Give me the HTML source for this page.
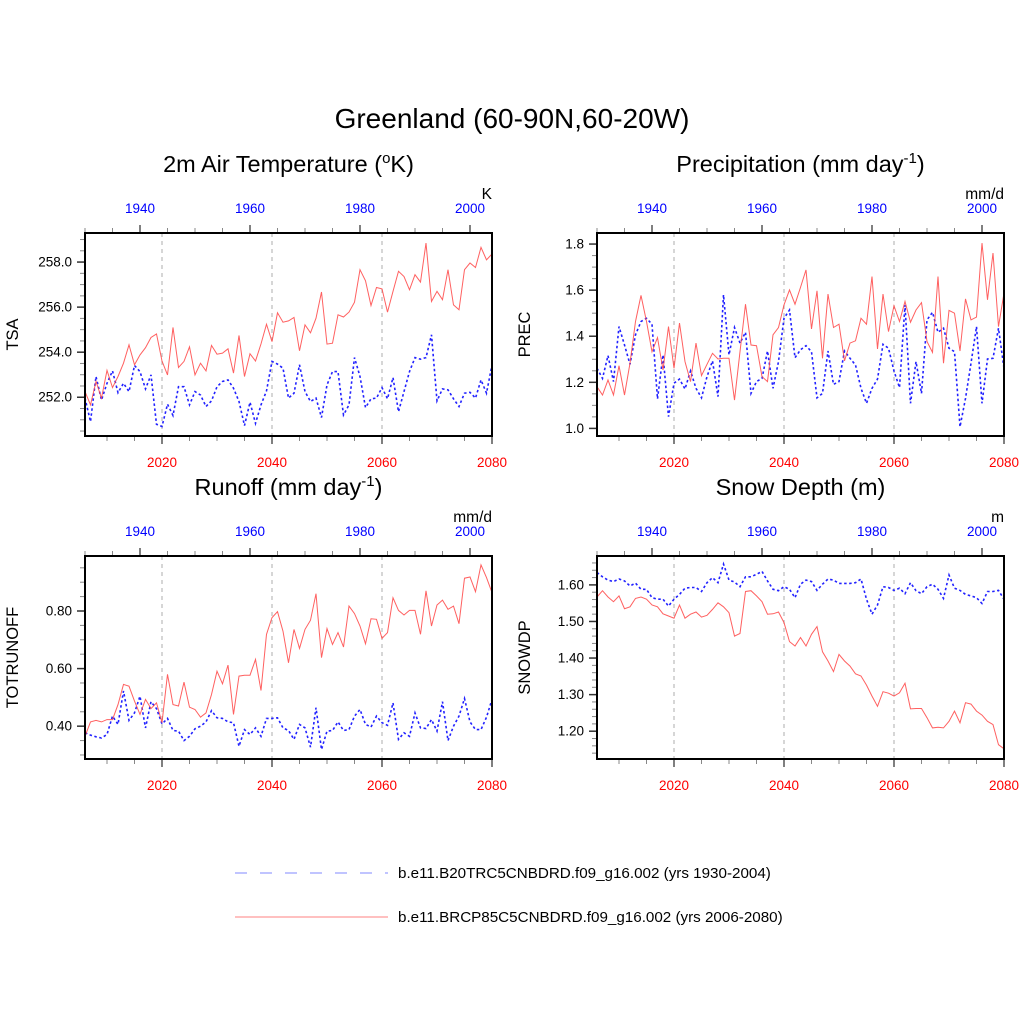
<!DOCTYPE html>
<html><head><meta charset="utf-8"><style>
html,body{margin:0;padding:0;background:#fff}
svg{display:block;font-family:"Liberation Sans",Arial,sans-serif}
</style></head><body>
<svg id="chart" width="1024" height="1024" viewBox="0 0 1024 1024" xmlns="http://www.w3.org/2000/svg">
<text x="512" y="128" font-size="28" text-anchor="middle">Greenland (60-90N,60-20W)</text>
<g>
<line x1="235" y1="873" x2="388" y2="873" stroke="#9aa0ff" stroke-width="1.2" stroke-dasharray="12,13"/>
<text x="398" y="878" font-size="15.2">b.e11.B20TRC5CNBDRD.f09_g16.002 (yrs 1930-2004)</text>
<line x1="235" y1="917" x2="388" y2="917" stroke="#ff9a9a" stroke-width="1.2"/>
<text x="398" y="922" font-size="15.2">b.e11.BRCP85C5CNBDRD.f09_g16.002 (yrs 2006-2080)</text>
</g>
</svg>
<script>
const tsaRcp=[252.25,251.66,252.7,251.96,253.19,252.43,252.92,253.51,254.33,253.44,253.88,254.2,254.65,254.81,253.61,252.99,255.1,253.32,253.59,254.24,252.99,253.51,253.17,254.3,253.91,253.96,254.15,253.07,254.74,252.92,253.93,253.61,254.37,255.24,254.47,255.75,255.33,255.39,255.54,254.06,255.21,254.86,255.51,256.67,254.36,254.4,255.66,255.56,255.78,256.22,257.66,257.17,256.07,256.87,256.81,255.78,256.7,257.59,257.36,256.77,257.44,257.11,258.84,256.25,256.7,256.33,257.66,256.1,255.88,257.66,257.96,257.76,258.65,258.1,258.36];
const tsaHist=[251.96,250.92,252.92,251.88,252.62,253.17,252.2,252.62,252.25,253.41,253.14,252.37,252.99,250.8,250.7,251.69,251.19,252.47,252.47,251.66,252.25,252.1,251.59,251.84,252.47,252.7,252.77,252.4,251.81,250.74,251.78,250.84,251.66,252.28,253.59,253.47,253.29,251.96,252.18,253.44,252.25,251.81,251.96,251.1,252.55,253.14,253.14,251.21,251.66,253.76,252.92,251.54,251.93,251.96,252.43,251.93,252.87,251.36,252.25,253.14,253.76,253.69,253.76,254.77,251.84,252.37,252.33,251.93,251.59,252.18,252.22,251.96,252.77,252.18,253.44];
const precRcp=[1.181,1.145,1.21,1.145,1.272,1.145,1.283,1.464,1.577,1.464,1.333,1.394,1.254,1.442,1.261,1.457,1.29,1.203,1.37,1.229,1.278,1.326,1.301,1.304,1.304,1.123,1.333,1.539,1.362,1.359,1.225,1.203,1.406,1.438,1.536,1.601,1.539,1.612,1.688,1.432,1.597,1.304,1.583,1.438,1.452,1.293,1.37,1.38,1.478,1.452,1.659,1.345,1.583,1.42,1.532,1.464,1.551,1.461,1.514,1.546,1.377,1.33,1.659,1.283,1.512,1.5,1.336,1.562,1.471,1.483,1.804,1.558,1.761,1.442,1.587];
const precHist=[1.261,1.217,1.316,1.203,1.442,1.362,1.278,1.406,1.464,1.478,1.452,1.128,1.319,1.051,1.196,1.214,1.171,1.249,1.174,1.133,1.225,1.293,1.138,1.58,1.319,1.438,1.37,1.417,1.152,1.203,1.217,1.336,1.174,1.29,1.478,1.514,1.307,1.341,1.359,1.333,1.133,1.152,1.336,1.191,1.203,1.336,1.304,1.275,1.174,1.109,1.174,1.214,1.365,1.348,1.249,1.177,1.536,1.109,1.29,1.152,1.471,1.504,1.417,1.435,1.348,1.333,1.007,1.13,1.283,1.442,1.109,1.301,1.304,1.435,1.261];
const roRcp=[0.365,0.415,0.42,0.415,0.423,0.423,0.475,0.545,0.539,0.487,0.441,0.493,0.461,0.481,0.412,0.58,0.475,0.47,0.553,0.466,0.458,0.431,0.446,0.51,0.591,0.547,0.612,0.441,0.574,0.577,0.577,0.632,0.524,0.719,0.777,0.798,0.73,0.62,0.736,0.67,0.736,0.768,0.86,0.638,0.739,0.684,0.725,0.675,0.817,0.791,0.748,0.686,0.773,0.771,0.705,0.725,0.846,0.802,0.786,0.802,0.802,0.719,0.87,0.748,0.821,0.838,0.806,0.817,0.756,0.914,0.918,0.867,0.96,0.916,0.864];
const roHist=[0.377,0.369,0.363,0.359,0.371,0.435,0.406,0.522,0.42,0.446,0.504,0.394,0.485,0.461,0.408,0.427,0.385,0.383,0.35,0.365,0.391,0.4,0.415,0.454,0.429,0.427,0.415,0.412,0.33,0.388,0.371,0.394,0.365,0.427,0.427,0.429,0.394,0.385,0.354,0.406,0.394,0.327,0.464,0.319,0.383,0.385,0.415,0.385,0.388,0.435,0.458,0.406,0.397,0.435,0.412,0.403,0.481,0.354,0.377,0.365,0.446,0.394,0.392,0.423,0.383,0.485,0.35,0.4,0.435,0.496,0.415,0.388,0.388,0.431,0.493];
const snRcp=[1.567,1.584,1.567,1.554,1.57,1.535,1.54,1.563,1.567,1.561,1.545,1.54,1.521,1.515,1.509,1.545,1.509,1.52,1.526,1.512,1.517,1.533,1.551,1.54,1.524,1.46,1.467,1.582,1.584,1.57,1.554,1.52,1.521,1.526,1.497,1.445,1.433,1.456,1.433,1.465,1.486,1.417,1.392,1.363,1.41,1.392,1.378,1.357,1.351,1.326,1.296,1.268,1.308,1.304,1.296,1.305,1.331,1.261,1.262,1.262,1.237,1.209,1.211,1.209,1.227,1.255,1.223,1.278,1.274,1.255,1.244,1.227,1.218,1.163,1.152];
const snHist=[1.634,1.622,1.613,1.609,1.616,1.611,1.597,1.605,1.588,1.588,1.565,1.561,1.561,1.542,1.561,1.574,1.591,1.593,1.593,1.582,1.606,1.62,1.606,1.657,1.613,1.608,1.595,1.622,1.622,1.629,1.637,1.611,1.588,1.584,1.595,1.588,1.565,1.602,1.613,1.609,1.585,1.602,1.616,1.613,1.604,1.604,1.604,1.606,1.616,1.561,1.52,1.545,1.595,1.593,1.585,1.591,1.576,1.606,1.584,1.576,1.595,1.602,1.588,1.563,1.627,1.591,1.585,1.574,1.57,1.565,1.549,1.582,1.582,1.585,1.561];
const bottomTicks=[2020,2040,2060,2080];
const topTicks=[1940,1960,1980,2000];
const tsaTicks=[252,254,256,258];
const precTicks=[1.0,1.2,1.4,1.6,1.8];
const roTicks=[0.4,0.6,0.8];
const snTicks=[1.2,1.3,1.4,1.5,1.6];

const NS='http://www.w3.org/2000/svg';
const svg=document.getElementById('chart');
function mk(tag,attrs,parent){const e=document.createElementNS(NS,tag);for(const k in attrs)e.setAttribute(k,attrs[k]);(parent||svg).appendChild(e);return e;}

const panels=[
 {key:'tsa',x0:85,x1:492,y0:233,y1:436,ymin:250.28,ymax:259.29,ticks:tsaTicks,minor:0.5,dec:1,label:'TSA',units:'K',title:'2m Air Temperature (',sup:'o',title2:'K)',rcp:tsaRcp,hist:tsaHist},
 {key:'prec',x0:597,x1:1004,y0:233,y1:436,ymin:0.967,ymax:1.848,ticks:precTicks,minor:0.05,dec:1,label:'PREC',units:'mm/d',title:'Precipitation (mm day',sup:'-1',title2:')',rcp:precRcp,hist:precHist},
 {key:'runoff',x0:85,x1:492,y0:556,y1:759,ymin:0.286,ymax:0.991,ticks:roTicks,minor:0.05,dec:2,label:'TOTRUNOFF',units:'mm/d',title:'Runoff (mm day',sup:'-1',title2:')',rcp:roRcp,hist:roHist},
 {key:'snow',x0:597,x1:1004,y0:556,y1:759,ymin:1.124,ymax:1.679,ticks:snTicks,minor:0.02,dec:2,label:'SNOWDP',units:'m',title:'Snow Depth (m)',sup:'',title2:'',rcp:snRcp,hist:snHist}
];

panels.forEach(p=>{
 const g=mk('g',{});
 
 
 const xb=yr=>p.x0+(yr-2006)/74*(p.x1-p.x0);
 const xt=yr=>p.x0+(yr-1930)/74*(p.x1-p.x0);
 const y=v=>p.y1-(v-p.ymin)/(p.ymax-p.ymin)*(p.y1-p.y0);
 const cx=(p.x0+p.x1)/2;
 const t=mk('text',{x:cx,y:p.y0-61,'font-size':23.5,'text-anchor':'middle'},g);
 
 
 t.appendChild(document.createTextNode(p.title));
 if(p.sup){const s=mk('tspan',{'font-size':15,dy:-9},t);s.textContent=p.sup;const s2=mk('tspan',{dy:9},t);s2.textContent=p.title2;}
 const u=mk('text',{x:p.x1,y:p.y0-34,'font-size':15.5,'text-anchor':'end'},g);
 
 
 u.textContent=p.units;
 const yl=mk('text',{x:0,y:0,'font-size':16.5,'text-anchor':'middle',transform:`translate(${p.x0-67},${(p.y0+p.y1)/2}) rotate(-90)`},g);
 
 
 yl.textContent=p.label;
 [2020,2040,2060].forEach(yr=>{
  const l=mk('line',{x1:xb(yr),x2:xb(yr),y1:p.y0,y2:p.y1,stroke:'#bbb','stroke-width':1.2,'stroke-dasharray':'4,4'},g);
  
  
 });
 for(let yr=2010;yr<=2080;yr+=5){const maj=yr%20===0;const X=xb(yr);mk('line',{x1:X,x2:X,y1:p.y1,y2:p.y1+(maj?8:5),stroke:maj?'#555':'#888','stroke-width':maj?1.5:1},g);}
 bottomTicks.forEach(yr=>{const tl=mk('text',{x:xb(yr),y:p.y1+31,'font-size':13.5,fill:'#f00','text-anchor':'middle'},g);
  
  
  tl.textContent=yr;});
 for(let yr=1930;yr<=2004;yr+=5){const maj=yr%20===0;const X=xt(yr);mk('line',{x1:X,x2:X,y1:p.y0,y2:p.y0-(maj?8:5),stroke:maj?'#555':'#888','stroke-width':maj?1.5:1},g);}
 topTicks.forEach(yr=>{const tl=mk('text',{x:xt(yr),y:p.y0-20,'font-size':13.5,fill:'#00f','text-anchor':'middle'},g);
  
  
  tl.textContent=yr;});
 const start=Math.ceil(p.ymin/p.minor-1e-6);
 for(let k=start;k*p.minor<=p.ymax+1e-9;k++){const v=k*p.minor;const maj=p.ticks.some(tv=>Math.abs(tv-v)<1e-6);const Y=y(v);
  mk('line',{x1:p.x0,x2:p.x0-(maj?8:5),y1:Y,y2:Y,stroke:maj?'#333':'#888','stroke-width':maj?1.5:1},g);}
 p.ticks.forEach(v=>{const tl=mk('text',{x:p.x0-13,y:y(v)+4.5,'font-size':13.5,'text-anchor':'end'},g);
  
  
  tl.textContent=v.toFixed(p.dec);});
 const ptsH=p.hist.map((v,i)=>xt(1930+i).toFixed(1)+','+y(v).toFixed(1)).join(' ');
 const lh=mk('polyline',{points:ptsH,fill:'none',stroke:'#2222ff','stroke-width':1.6,'stroke-dasharray':'2.5,2.5'},g);
 
 
 const ptsR=p.rcp.map((v,i)=>xb(2006+i).toFixed(1)+','+y(v).toFixed(1)).join(' ');
 const lr=mk('polyline',{points:ptsR,fill:'none',stroke:'#ff4444','stroke-width':1,'stroke-opacity':0.85},g);
 
 
 const f=mk('rect',{x:p.x0,y:p.y0,width:p.x1-p.x0,height:p.y1-p.y0,fill:'none',stroke:'#000','stroke-width':2},g);
 
 
});
</script>
</body></html>
